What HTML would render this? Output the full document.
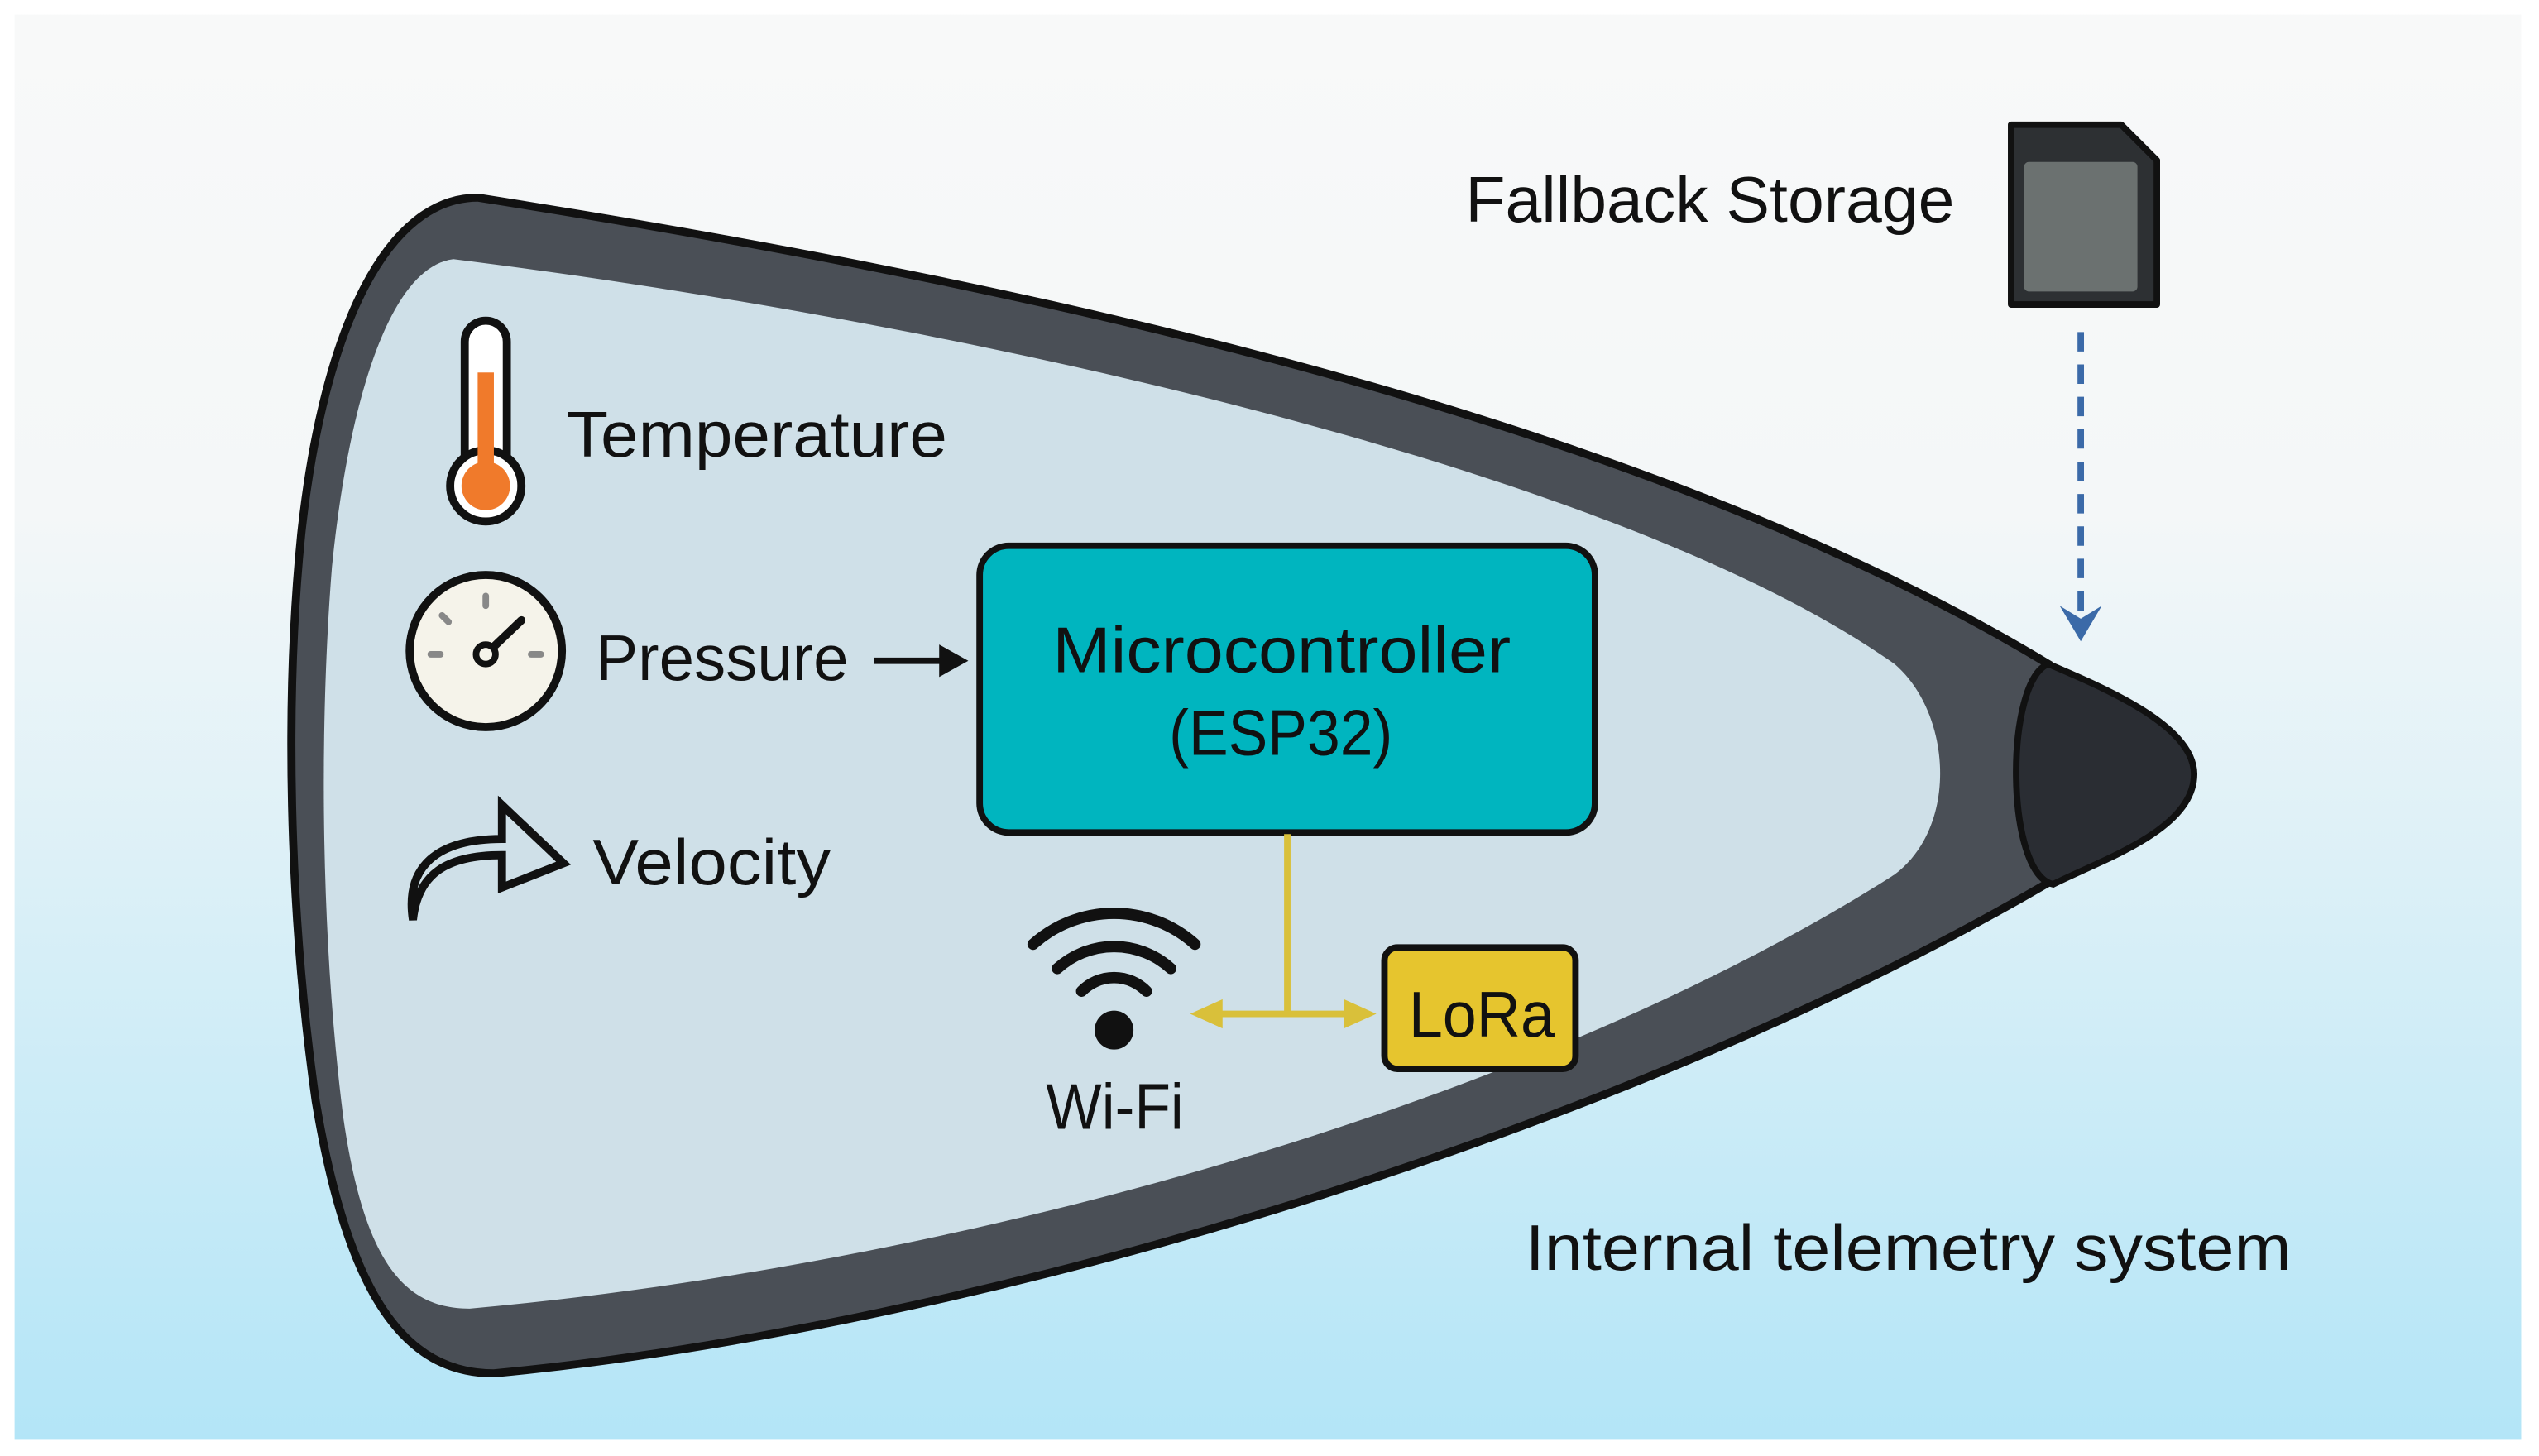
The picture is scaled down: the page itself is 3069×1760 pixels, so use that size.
<!DOCTYPE html>
<html><head><meta charset="utf-8"><style>
html,body{margin:0;padding:0;width:3069px;height:1760px;overflow:hidden;background:#fff}
svg{display:block}
text{font-family:"Liberation Sans","DejaVu Sans",sans-serif;fill:#111}
</style></head><body>
<svg width="3069" height="1760" viewBox="0 0 1568 899" preserveAspectRatio="none">
<defs>
<linearGradient id="bg" x1="0" y1="0" x2="0" y2="1">
<stop offset="0" stop-color="#f8f9f9"/><stop offset="0.35" stop-color="#f4f7f8"/>
<stop offset="0.6" stop-color="#dcf0f7"/><stop offset="1" stop-color="#b3e5f7"/>
</linearGradient>
</defs>
<rect x="0" y="0" width="1568" height="899" fill="#fff"/>
<rect x="9" y="9" width="1548" height="880" fill="url(#bg)"/>
<path d="M295 122 C240 122 200 200 186 330 C176 430 178 560 195 680 C215 800 250 848 305 848 C600 820 1000 700 1265 545 L1265 410 C1000 250 600 170 295 122 Z" fill="#4a4f56" stroke="#111" stroke-width="5"/>
<path d="M280 160 C240 165 215 250 205 350 C197 450 198 580 212 690 C225 780 250 808 290 808 C600 780 950 680 1170 540 C1210 510 1205 440 1170 410 C1000 290 600 200 280 160 Z" fill="#cfe0e8"/>
<path d="M1265 410 C1238 420 1238 540 1268 546 C1300 530 1355 512 1355 478 C1355 448 1300 425 1265 410 Z" fill="#2a2d33" stroke="#111" stroke-width="4"/>
<path d="M1242 77 L1310 77 L1332 99 L1332 188 L1242 188 Z" fill="#2d3033" stroke="#111" stroke-width="4" stroke-linejoin="round"/>
<rect x="1250" y="100" width="70" height="80" rx="3" fill="#6b7170"/>
<text x="905" y="137" font-size="40" textLength="302" lengthAdjust="spacingAndGlyphs">Fallback Storage</text>
<line x1="1285" y1="205" x2="1285" y2="378" stroke="#3b6aa8" stroke-width="4" stroke-dasharray="12,8"/>
<path d="M1272 374 L1285 396 L1298 374 L1285 382 Z" fill="#3b6aa8"/>
<rect x="287" y="198" width="26" height="100" rx="13" fill="#fff" stroke="#111" stroke-width="5"/>
<circle cx="300" cy="300" r="22" fill="#fff" stroke="#111" stroke-width="5"/>
<rect x="295" y="230" width="10" height="70" fill="#f07a2b"/>
<circle cx="300" cy="300" r="15" fill="#f07a2b"/>
<text x="350" y="282" font-size="40" textLength="235" lengthAdjust="spacingAndGlyphs">Temperature</text>
<circle cx="300" cy="402" r="47" fill="#f5f3ea" stroke="#111" stroke-width="5"/>
<line x1="300" y1="404" x2="322" y2="383" stroke="#111" stroke-width="5" stroke-linecap="round"/>
<circle cx="300" cy="404" r="6" fill="#f5f3ea" stroke="#111" stroke-width="4"/>
<g stroke="#888" stroke-width="4" stroke-linecap="round"><line x1="300" y1="368" x2="300" y2="374"/><line x1="273" y1="380" x2="277" y2="384"/><line x1="266" y1="404" x2="272" y2="404"/><line x1="328" y1="404" x2="334" y2="404"/></g>
<text x="368" y="420" font-size="40" textLength="156" lengthAdjust="spacingAndGlyphs">Pressure</text>
<line x1="540" y1="408" x2="590" y2="408" stroke="#111" stroke-width="4"/>
<path d="M580 398 L598 408 L580 418 Z" fill="#111"/>
<path d="M255 568 C258 540 275 528 310 528 L310 548 L348 533 L310 497 L310 518 C270 518 250 535 255 568 Z" fill="none" stroke="#111" stroke-width="5" stroke-linejoin="miter"/>
<text x="366" y="546" font-size="40" textLength="147" lengthAdjust="spacingAndGlyphs">Velocity</text>
<rect x="605" y="337" width="380" height="177" rx="18" fill="#00b5bf" stroke="#111" stroke-width="4"/>
<text x="650" y="415" font-size="40" textLength="283" lengthAdjust="spacingAndGlyphs">Microcontroller</text>
<text x="722" y="466" font-size="40" textLength="138" lengthAdjust="spacingAndGlyphs">(ESP32)</text>
<g stroke="#d9c03a" stroke-width="4" fill="none">
<line x1="795" y1="515" x2="795" y2="626"/>
<line x1="745" y1="626" x2="840" y2="626"/>
</g>
<path d="M735 626 L755 617 L755 635 Z" fill="#d9c03a"/>
<path d="M850 626 L830 617 L830 635 Z" fill="#d9c03a"/>
<rect x="855" y="585" width="118" height="75" rx="8" fill="#e6c52e" stroke="#111" stroke-width="4"/>
<text x="870" y="640" font-size="40" textLength="90" lengthAdjust="spacingAndGlyphs">LoRa</text>
<g stroke="#111" stroke-width="7" fill="none" stroke-linecap="round">
<path d="M638 583 A75 75 0 0 1 738 583"/>
<path d="M653 598 A52 52 0 0 1 723 598"/>
<path d="M668 612 A28 28 0 0 1 708 612"/>
</g>
<circle cx="688" cy="636" r="12" fill="#111"/>
<text x="646" y="697" font-size="40" textLength="85" lengthAdjust="spacingAndGlyphs">Wi-Fi</text>
<text x="942" y="784" font-size="40" textLength="473" lengthAdjust="spacingAndGlyphs">Internal telemetry system</text>
</svg>
</body></html>
